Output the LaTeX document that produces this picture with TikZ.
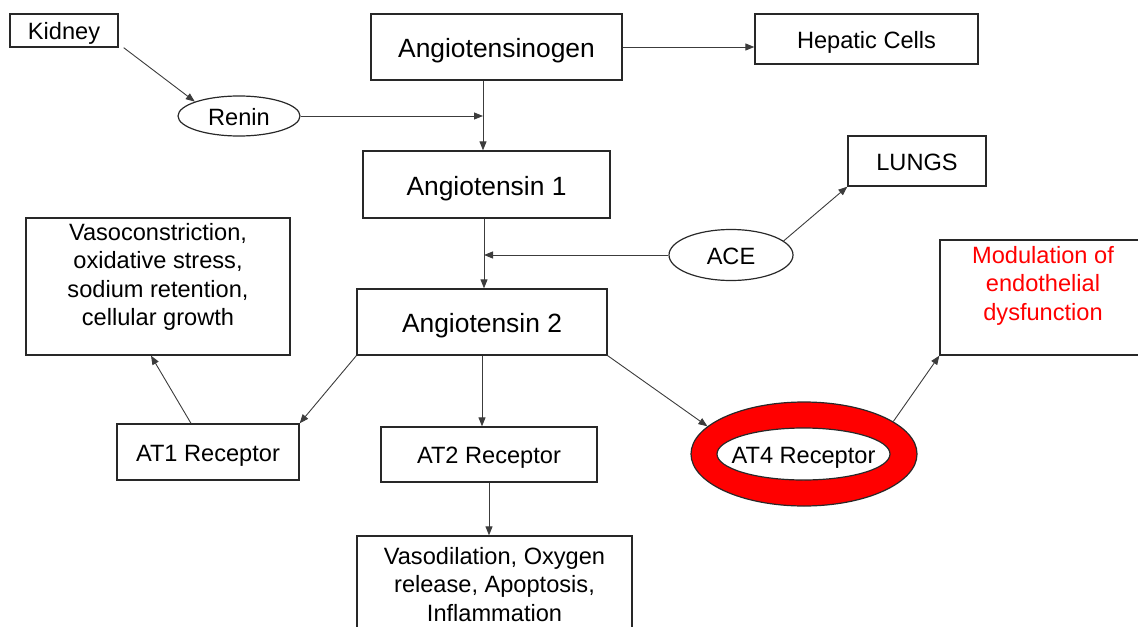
\documentclass[tikz,border=0pt]{standalone}
\usepackage{fontspec}
\setmainfont{Liberation Sans}
\usepackage{xcolor}
\usepackage{tikz}
\usetikzlibrary{
    arrows.meta,
    shapes.geometric
}
\definecolor{lineGray}{RGB}{60, 60, 60}
\definecolor{boxGray}{RGB}{40, 40, 40}
\definecolor{ringRed}{RGB}{255, 0, 0}
\newcommand{\txtsize}{\fontsize{11.8}{14.2}\selectfont}
\newcommand{\bigsize}{\fontsize{13.2}{15.8}\selectfont}
\tikzset{
    box/.style={draw=boxGray, line width=0.65pt, rectangle, inner sep=0pt, font=\txtsize,
        text height=9.4pt, text depth=0pt},
    bigbox/.style={box, font=\bigsize, text height=10.6pt},
    oval/.style={draw=boxGray, line width=0.6pt, ellipse, inner sep=0pt, font=\txtsize,
        text height=9.4pt, text depth=0pt},
    blocktext/.style={align=center, inner sep=0pt, anchor=north, font=\txtsize},
    plaintext/.style={inner sep=0pt, font=\txtsize, text height=9.4pt, text depth=0pt},
    link/.style={->, draw=lineGray, line width=0.45pt}
}

\begin{document}
\begin{tikzpicture}[x=0.5pt, y=-0.5pt, >={Triangle[length=4.5pt,width=3.5pt]}]
        \useasboundingbox (0,0) rectangle (1138,626);

        % Top row
        \node[box, minimum width=54pt, minimum height=16.5pt] (kidney) at (64,30.5) {Kidney};
        \node[bigbox, minimum width=125.5pt, minimum height=33pt] (ang0) at (496.5,47) {Angiotensinogen};
        \node[box, minimum width=111.5pt, minimum height=25pt] (hep) at (866.5,39) {Hepatic Cells};
        \node[oval, minimum width=61pt, minimum height=20pt] (renin) at (239,116) {Renin};

        % Middle
        \node[bigbox, minimum width=123.5pt, minimum height=33.5pt] (ang1) at (486.5,184.5) {Angiotensin 1};
        \node[box, minimum width=69pt, minimum height=25pt] (lungs) at (917,161) {LUNGS};
        \node[oval, minimum width=62pt, minimum height=25.5pt] (ace) at (731,255) {ACE};
        \node[bigbox, minimum width=125pt, minimum height=33pt] (ang2) at (482,322) {Angiotensin 2};

        % Effect boxes
        \node[box, minimum width=132pt, minimum height=68.5pt] (vaso) at (158,286.5) {};
        \node[blocktext] (vasotext) at (158,223) {Vasoconstriction,\\oxidative stress,\\sodium retention,\\cellular growth};
        \node[box, minimum width=100pt, minimum height=57.5pt] (mod) at (1040,297.5) {};
        \node[blocktext, text=ringRed] (modtext) at (1043,246) {Modulation of\\endothelial\\dysfunction};

        % Receptors
        \node[box, minimum width=91pt, minimum height=28pt] (at1) at (208,452) {AT1 Receptor};
        \node[box, minimum width=108pt, minimum height=27.5pt] (at2) at (489,454.5) {AT2 Receptor};
        \node[oval, fill=ringRed, minimum width=113pt, minimum height=52pt] (at4) at (804,454) {};
        \node[oval, fill=white, minimum width=86.5pt, minimum height=26pt] (at4in) at (803.5,454) {};
        \node[plaintext] (at4text) at (at4in) {AT4 Receptor};

        \node[box, minimum width=137.5pt, minimum height=57pt] (vasod) at (494.5,593) {};
        \node[blocktext] (vasodtext) at (494.5,547) {Vasodilation, Oxygen\\release, Apoptosis,\\Inflammation};

        % Joins on the main line
        \coordinate (jRenin) at (483,116);
        \coordinate (jACE) at (484,255);

        % Arrows
        \draw[link] ([xshift=2.5pt]kidney.south east) -- (renin.162);
        \draw[link] (renin.east) -- (jRenin);
        \draw[link] (ang0.south -| jRenin) -- (ang1.north -| jRenin);
        \draw[link] (ang0.east) -- (ang0.east -| hep.west);
        \draw[link] (ace.west) -- (jACE);
        \draw[link] (ace.15) -- (lungs.south west);
        \draw[link] (ang1.south -| jACE) -- (ang2.north -| jACE);
        \draw[link] (ang2.south west) -- (at1.north east);
        \draw[link] ([xshift=-8.5pt]at1.north) -- ([xshift=-3.5pt]vaso.south);
        \draw[link] (ang2.south) -- (ang2.south |- at2.north);
        \draw[link] (at2.south) -- (at2.south |- vasod.north);
        \draw[link] (ang2.south east) -- (at4.164);
        \draw[link] (at4.20) -- (mod.south west);
    \end{tikzpicture}
\end{document}
